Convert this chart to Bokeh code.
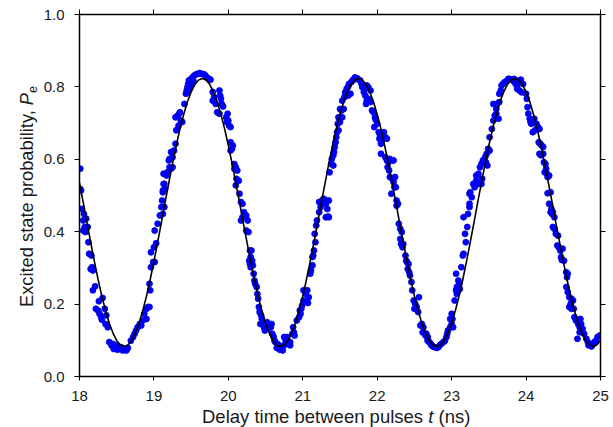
from bokeh.plotting import figure
from bokeh.models import Range1d, LinearAxis, FixedTicker, PrintfTickFormatter, Div
from bokeh.layouts import row, column
from bokeh.embed import file_html
from bokeh.resources import INLINE

# ---------------- data ----------------
x_ticks = [18, 19, 20, 21, 22, 23, 24, 25]
y_ticks = [0.0, 0.2, 0.4, 0.6, 0.8, 1.0]

x_label_parts = ["Delay time between pulses ", "t", " (ns)"]
y_label_parts = ["Excited state probability, ", "P", "e"]

# fitted curve, sampled every 0.05 ns
t_fit = [
    18.00, 18.05, 18.10, 18.15, 18.20, 18.25, 18.30, 18.35, 18.40, 18.45, 18.50, 18.55, 18.60, 18.65, 18.70, 18.75, 18.80, 18.85, 18.90, 18.95,
    19.00, 19.05, 19.10, 19.15, 19.20, 19.25, 19.30, 19.35, 19.40, 19.45, 19.50, 19.55, 19.60, 19.65, 19.70, 19.75, 19.80, 19.85, 19.90, 19.95,
    20.00, 20.05, 20.10, 20.15, 20.20, 20.25, 20.30, 20.35, 20.40, 20.45, 20.50, 20.55, 20.60, 20.65, 20.70, 20.75, 20.80, 20.85, 20.90, 20.95,
    21.00, 21.05, 21.10, 21.15, 21.20, 21.25, 21.30, 21.35, 21.40, 21.45, 21.50, 21.55, 21.60, 21.65, 21.70, 21.75, 21.80, 21.85, 21.90, 21.95,
    22.00, 22.05, 22.10, 22.15, 22.20, 22.25, 22.30, 22.35, 22.40, 22.45, 22.50, 22.55, 22.60, 22.65, 22.70, 22.75, 22.80, 22.85, 22.90, 22.95,
    23.00, 23.05, 23.10, 23.15, 23.20, 23.25, 23.30, 23.35, 23.40, 23.45, 23.50, 23.55, 23.60, 23.65, 23.70, 23.75, 23.80, 23.85, 23.90, 23.95,
    24.00, 24.05, 24.10, 24.15, 24.20, 24.25, 24.30, 24.35, 24.40, 24.45, 24.50, 24.55, 24.60, 24.65, 24.70, 24.75, 24.80, 24.85, 24.90, 24.95,
    25.00,
]
p_fit = [
    0.535, 0.481, 0.425, 0.371, 0.318, 0.268, 0.222, 0.182, 0.147, 0.120, 0.099, 0.087, 0.083,
    0.087, 0.099, 0.120, 0.147, 0.182, 0.222, 0.268, 0.318, 0.371, 0.425, 0.481, 0.535, 0.588, 0.638, 0.684, 0.724, 0.759, 0.786, 0.807, 0.819, 0.823,
    0.819, 0.807, 0.786, 0.759, 0.724, 0.684, 0.638, 0.588, 0.535, 0.481, 0.425, 0.371, 0.318, 0.268, 0.222, 0.182, 0.147, 0.120, 0.099, 0.087, 0.083,
    0.087, 0.099, 0.120, 0.147, 0.182, 0.222, 0.268, 0.318, 0.371, 0.425, 0.481, 0.535, 0.588, 0.638, 0.684, 0.724, 0.759, 0.786, 0.807, 0.819, 0.823,
    0.819, 0.807, 0.786, 0.759, 0.724, 0.684, 0.638, 0.588, 0.535, 0.481, 0.425, 0.371, 0.318, 0.268, 0.222, 0.182, 0.147, 0.120, 0.099, 0.087, 0.083,
    0.087, 0.099, 0.120, 0.147, 0.182, 0.222, 0.268, 0.318, 0.371, 0.425, 0.481, 0.535, 0.588, 0.638, 0.684, 0.724, 0.759, 0.786, 0.807, 0.819, 0.823,
    0.819, 0.807, 0.786, 0.759, 0.724, 0.684, 0.638, 0.588, 0.535, 0.481, 0.425, 0.371, 0.318, 0.268, 0.222, 0.182, 0.147, 0.120, 0.099, 0.087, 0.083,
    0.087, 0.099,
]

# measured points
t_meas = [
    18.01, 18.01, 18.02, 18.03, 18.06, 18.05, 18.09, 18.11, 18.07, 18.05, 18.08, 18.12, 18.13, 18.16, 18.17, 18.18, 18.15, 18.18, 18.21, 18.26,
    18.31, 18.22, 18.25, 18.27, 18.34, 18.29, 18.36, 18.30, 18.35, 18.38, 18.40, 18.43, 18.45, 18.47, 18.49, 18.52, 18.54, 18.56, 18.58, 18.61,
    18.63, 18.65, 18.46, 18.51, 18.69, 18.72, 18.74, 18.76, 18.78, 18.81, 18.83, 18.85, 18.87, 18.90, 18.92, 18.94, 18.90, 18.95, 18.94, 18.96,
    18.99, 19.01, 18.96, 19.00, 19.03, 19.01, 19.05, 19.08, 19.10, 19.11, 19.12, 19.13, 19.13,
    19.12, 19.14, 19.12, 19.15, 19.14, 19.17, 19.18, 19.21, 19.23, 19.25, 19.20, 19.21, 19.25, 19.27, 19.23, 19.29, 19.30, 19.33, 19.32, 19.34,
    19.36, 19.38, 19.29, 19.35, 19.41, 19.43, 19.44, 19.45, 19.46, 19.47, 19.50, 19.52, 19.54, 19.56, 19.59, 19.61, 19.63, 19.65, 19.68, 19.70,
    19.72, 19.74, 19.76, 19.51, 19.53, 19.48, 19.45,
    19.79, 19.81, 19.79, 19.83, 19.88, 19.89, 19.90, 19.91, 19.93, 19.85, 19.88, 19.97, 19.99, 19.98, 20.01, 20.03, 20.00, 20.03, 20.06, 20.05,
    20.03, 20.08, 20.10, 20.12, 20.08, 20.11, 20.14, 20.10, 20.15, 20.17, 20.19, 20.21, 20.19, 20.17, 20.24, 20.26, 20.24, 20.27, 20.29, 20.30,
    20.28, 20.29, 20.30,
    20.31, 20.32, 20.33, 20.34, 20.35, 20.36, 20.38, 20.39, 20.40, 20.41, 20.42, 20.44, 20.45, 20.43, 20.47, 20.48, 20.50, 20.52, 20.54, 20.57,
    20.58, 20.49, 20.53, 20.59, 20.61, 20.62, 20.63, 20.66, 20.68, 20.70, 20.72, 20.75, 20.65, 20.69, 20.73,
    20.75, 20.77, 20.79, 20.81, 20.83, 20.83, 20.86, 20.88, 20.89, 20.87, 20.92, 20.95, 20.97, 20.98, 20.99, 20.96, 21.01, 21.04, 21.06, 21.08,
    21.07, 21.01, 21.10, 21.11, 21.13, 21.14, 21.15, 21.17, 21.13, 21.16, 21.18, 21.19, 21.22, 21.24, 21.25, 21.22, 21.26, 21.28, 21.31, 21.33,
    21.34, 21.31, 21.35, 21.32, 21.35, 21.36, 21.38, 21.39, 21.41, 21.42, 21.43, 21.44, 21.45, 21.46, 21.47, 21.48, 21.50, 21.41,
    21.48, 21.50, 21.49, 21.53, 21.52, 21.55, 21.53, 21.56, 21.57, 21.59, 21.58, 21.61, 21.61, 21.64, 21.62, 21.65, 21.67, 21.68, 21.70, 21.73,
    21.75, 21.77, 21.79, 21.80, 21.83, 21.86, 21.88, 21.91, 21.82, 21.84, 21.86, 21.85, 21.88, 21.91, 21.93, 21.95, 21.97, 21.98, 21.96, 22.00,
    22.02, 22.04, 22.03, 22.06, 22.09, 22.11, 22.13, 22.05, 22.05, 22.11, 22.13, 22.15, 22.17, 22.20, 22.22, 22.14, 22.16, 22.17, 22.20, 22.22,
    22.24, 22.23, 22.19, 22.25, 22.26, 22.28, 22.26, 22.29, 22.31, 22.33, 22.31, 22.32, 22.35, 22.34, 22.38, 22.39, 22.40, 22.42, 22.41, 22.43,
    22.44, 22.46, 22.47, 22.49, 22.51, 22.50, 22.53, 22.56, 22.55, 22.58, 22.60, 22.62, 22.61, 22.64, 22.65, 22.67, 22.68,
    22.66, 22.68, 22.68, 22.70, 22.72, 22.73, 22.75, 22.77, 22.80, 22.82, 22.84, 22.86, 22.89, 22.91, 22.93, 22.94, 22.95, 22.98, 23.00, 23.02,
    22.98, 23.00, 23.01, 23.04, 23.07, 23.09, 23.11, 23.07, 23.06, 23.10, 23.09, 23.06, 23.13, 23.15, 23.16, 23.19, 23.18, 23.21, 23.16, 23.22,
    23.24, 23.24, 23.27, 23.24, 23.25,
    23.29, 23.31, 23.33, 23.36, 23.33, 23.36, 23.40, 23.41, 23.38, 23.40, 23.42, 23.45, 23.47, 23.49, 23.51, 23.46, 23.48, 23.51, 23.54, 23.56,
    23.58, 23.60, 23.63, 23.60, 23.61, 23.64, 23.56, 23.64, 23.66, 23.67, 23.69, 23.71, 23.74, 23.76, 23.78, 23.80, 23.83, 23.85, 23.86,
    23.84, 23.87, 23.89, 23.91, 23.93, 23.96, 23.88, 23.91, 23.94, 24.00, 24.01, 24.02, 24.03, 24.05, 24.06, 24.07, 24.09, 24.11, 24.14, 24.16,
    24.18, 24.09, 24.12, 24.17, 24.19, 24.21, 24.23, 24.18, 24.20, 24.23, 24.24, 24.26, 24.27, 24.25, 24.28, 24.29, 24.31, 24.29, 24.33, 24.31,
    24.34, 24.33, 24.36, 24.38, 24.35, 24.36, 24.38, 24.40, 24.43, 24.42, 24.44, 24.46, 24.49, 24.47, 24.48, 24.51,
    24.54, 24.56, 24.55, 24.54, 24.56, 24.58, 24.61, 24.63, 24.60, 24.58, 24.61, 24.64, 24.65, 24.67, 24.70, 24.72, 24.73, 24.74, 24.76, 24.69,
    24.72, 24.78, 24.81, 24.83, 24.85, 24.87, 24.90, 24.92, 24.94, 24.96, 24.99, 24.84, 24.88,
]
p_meas = [
    0.574, 0.518, 0.514, 0.463, 0.449, 0.431, 0.436, 0.413, 0.413, 0.403, 0.399, 0.371, 0.339, 0.334, 0.302, 0.293, 0.297, 0.238, 0.249, 0.208,
    0.217, 0.187, 0.182, 0.173, 0.187, 0.164, 0.169, 0.157, 0.145, 0.136, 0.095, 0.086, 0.090, 0.081, 0.086, 0.079, 0.076, 0.081, 0.072, 0.076,
    0.072, 0.079, 0.076, 0.074, 0.099, 0.109, 0.118, 0.127, 0.136, 0.145, 0.141, 0.155, 0.173, 0.187, 0.192, 0.192, 0.159, 0.238, 0.256, 0.302,
    0.316, 0.316, 0.343, 0.357, 0.368, 0.403, 0.422, 0.445, 0.468, 0.486, 0.514, 0.532, 0.560,
    0.449, 0.468, 0.509, 0.518, 0.532, 0.555, 0.564, 0.578, 0.574, 0.578, 0.597, 0.601, 0.606, 0.624, 0.620, 0.643, 0.680, 0.693, 0.721, 0.726,
    0.707, 0.703, 0.716, 0.730, 0.753, 0.781, 0.790, 0.799, 0.808, 0.818, 0.822, 0.827, 0.831, 0.834, 0.836, 0.838, 0.836, 0.836, 0.834, 0.829,
    0.825, 0.822, 0.820, 0.808, 0.816, 0.795, 0.786,
    0.786, 0.772, 0.762, 0.753, 0.790, 0.776, 0.767, 0.753, 0.746, 0.730, 0.726, 0.716, 0.726, 0.703, 0.693, 0.689, 0.707, 0.647, 0.638, 0.629,
    0.624, 0.587, 0.578, 0.569, 0.574, 0.546, 0.541, 0.528, 0.505, 0.482, 0.477, 0.454, 0.440, 0.431, 0.445, 0.431, 0.403, 0.399, 0.348, 0.330,
    0.320, 0.311, 0.302,
    0.348, 0.320, 0.307, 0.284, 0.265, 0.256, 0.247, 0.228, 0.215, 0.192, 0.178, 0.169, 0.159, 0.145, 0.145, 0.136, 0.145, 0.150, 0.141, 0.136,
    0.145, 0.127, 0.132, 0.118, 0.109, 0.099, 0.095, 0.090, 0.086, 0.081, 0.076, 0.086, 0.079, 0.074, 0.072,
    0.109, 0.099, 0.109, 0.090, 0.086, 0.095, 0.118, 0.122, 0.113, 0.136, 0.155, 0.164, 0.173, 0.187, 0.196, 0.182, 0.210, 0.228, 0.238, 0.219,
    0.203, 0.238, 0.284, 0.293, 0.307, 0.334, 0.348, 0.371, 0.330, 0.394, 0.417, 0.431, 0.454, 0.468, 0.477, 0.482, 0.486, 0.491, 0.477, 0.463,
    0.442, 0.440, 0.440, 0.486, 0.486, 0.564, 0.587, 0.601, 0.611, 0.620, 0.634, 0.647, 0.661, 0.675, 0.698, 0.716, 0.739, 0.583,
    0.680, 0.703, 0.712, 0.716, 0.735, 0.739, 0.762, 0.772, 0.785, 0.795, 0.781, 0.801, 0.776, 0.781, 0.808, 0.813, 0.818, 0.820, 0.826, 0.824,
    0.820, 0.818, 0.808, 0.799, 0.795, 0.804, 0.799, 0.790, 0.786, 0.776, 0.762, 0.753, 0.767, 0.758, 0.735, 0.730, 0.716, 0.709, 0.689, 0.698,
    0.675, 0.666, 0.657, 0.652, 0.675, 0.661, 0.657, 0.643, 0.615, 0.606, 0.597, 0.592, 0.601, 0.597, 0.597, 0.578, 0.569, 0.551, 0.546, 0.537,
    0.551, 0.523, 0.505, 0.523, 0.486, 0.477, 0.472, 0.422, 0.408, 0.399, 0.380, 0.366, 0.366, 0.357, 0.334, 0.320, 0.316, 0.311, 0.297, 0.288,
    0.279, 0.261, 0.238, 0.210, 0.201, 0.187, 0.192, 0.219, 0.178, 0.141, 0.145, 0.136, 0.122, 0.118, 0.113, 0.109, 0.099,
    0.118, 0.109, 0.099, 0.095, 0.090, 0.086, 0.083, 0.081, 0.079, 0.081, 0.086, 0.090, 0.095, 0.099, 0.109, 0.118, 0.127, 0.136, 0.145, 0.136,
    0.159, 0.173, 0.159, 0.210, 0.228, 0.238, 0.242, 0.247, 0.238, 0.256, 0.265, 0.284, 0.302, 0.334, 0.339, 0.371, 0.394, 0.413, 0.440, 0.449,
    0.468, 0.477, 0.495, 0.505, 0.509,
    0.532, 0.523, 0.541, 0.532, 0.555, 0.560, 0.532, 0.546, 0.578, 0.587, 0.597, 0.606, 0.615, 0.629, 0.624, 0.592, 0.583, 0.661, 0.684, 0.707,
    0.721, 0.726, 0.712, 0.739, 0.753, 0.758, 0.753, 0.781, 0.790, 0.804, 0.808, 0.813, 0.816, 0.822, 0.822, 0.820, 0.816, 0.816, 0.808,
    0.822, 0.813, 0.808, 0.818, 0.820, 0.808, 0.795, 0.790, 0.785, 0.781, 0.767, 0.744, 0.726, 0.712, 0.703, 0.698, 0.707, 0.712, 0.698, 0.689,
    0.684, 0.675, 0.680, 0.647, 0.643, 0.638, 0.634, 0.615, 0.611, 0.615, 0.592, 0.587, 0.574, 0.564, 0.560, 0.551, 0.555, 0.506, 0.509, 0.477,
    0.463, 0.454, 0.454, 0.440, 0.449, 0.413, 0.408, 0.394, 0.389, 0.362, 0.357, 0.348, 0.353, 0.330, 0.322, 0.320,
    0.288, 0.284, 0.274, 0.247, 0.233, 0.219, 0.215, 0.210, 0.201, 0.192, 0.187, 0.187, 0.164, 0.155, 0.145, 0.136, 0.159, 0.145, 0.132, 0.104,
    0.122, 0.118, 0.104, 0.095, 0.090, 0.086, 0.090, 0.095, 0.099, 0.109, 0.113, 0.086, 0.083,
]

# ---------------- figure ----------------
FONT = "Liberation Sans"
TXT = "#1a1a1a"
YDIV_W = 40

p = figure(frame_width=521, frame_height=362, x_range=Range1d(18, 25), y_range=Range1d(0, 1),
           output_backend="svg", toolbar_location=None,
           min_border_left=77 - YDIV_W, min_border_right=15, min_border_top=14, min_border_bottom=31)
p.grid.visible = False
p.outline_line_color = None
p.background_fill_color = "white"
p.border_fill_color = "white"


def style_axis(ax, ticks, show_labels, tick_out):
    ax.ticker = FixedTicker(ticks=ticks)
    ax.axis_line_color = "black"
    ax.axis_line_width = 1.5
    ax.major_tick_line_color = "black"
    ax.major_tick_line_width = 1
    ax.major_tick_in = 0
    ax.major_tick_out = tick_out
    ax.minor_tick_line_color = None
    ax.axis_label = None
    ax.major_label_text_font = FONT
    if show_labels:
        ax.major_label_text_font_size = "15px"
        ax.major_label_text_color = TXT
    else:
        ax.major_label_text_font_size = "2px"
        ax.major_label_text_color = None
        ax.major_label_standoff = 0


xb = p.xaxis[0]
yl = p.yaxis[0]
style_axis(xb, x_ticks, True, 4)
xb.major_label_standoff = 10
style_axis(yl, y_ticks, True, 5)
yl.major_label_standoff = 10
yl.formatter = PrintfTickFormatter(format="%.1f")

xt = LinearAxis()
style_axis(xt, x_ticks, False, 5)
p.add_layout(xt, "above")
yr = LinearAxis()
style_axis(yr, y_ticks, False, 5)
p.add_layout(yr, "right")

p.scatter(t_meas, p_meas, size=6, marker="circle", fill_color="#0000ff",
          line_color="#0000e0", line_width=0.8)
p.line(t_fit, p_fit, line_color="black", line_width=1.6)

# ---------------- axis titles (HTML, so that italic and subscript are real text) ----------------
x_html = (
    '<div style="position:relative;width:573px;height:20px;">'
    '<div style="position:absolute;left:162px;top:2px;white-space:nowrap;'
    f"font-family:'{FONT}';font-size:18.5px;line-height:16px;color:{TXT};\">"
    f"{x_label_parts[0]}<i>{x_label_parts[1]}</i>{x_label_parts[2]}</div></div>"
)
y_html = (
    f'<div style="position:relative;width:{YDIV_W}px;height:427px;">'
    '<div style="position:absolute;left:16px;top:307px;white-space:nowrap;'
    'transform:rotate(-90deg);transform-origin:left top;'
    f"font-family:'{FONT}';font-size:18.3px;line-height:21px;color:{TXT};\">"
    f"{y_label_parts[0]}<i>{y_label_parts[1]}</i>"
    f'<span style="font-size:12.5px;position:relative;top:4px;">{y_label_parts[2]}</span></div></div>'
)
xdiv = Div(text=x_html, width=573, height=20, margin=(0, 0, 0, 0))
ydiv = Div(text=y_html, width=YDIV_W, height=427, margin=(0, 0, 0, 0))

layout = row(ydiv, column(p, xdiv, spacing=0), spacing=0)

open("out.html", "w").write(file_html(layout, INLINE))
